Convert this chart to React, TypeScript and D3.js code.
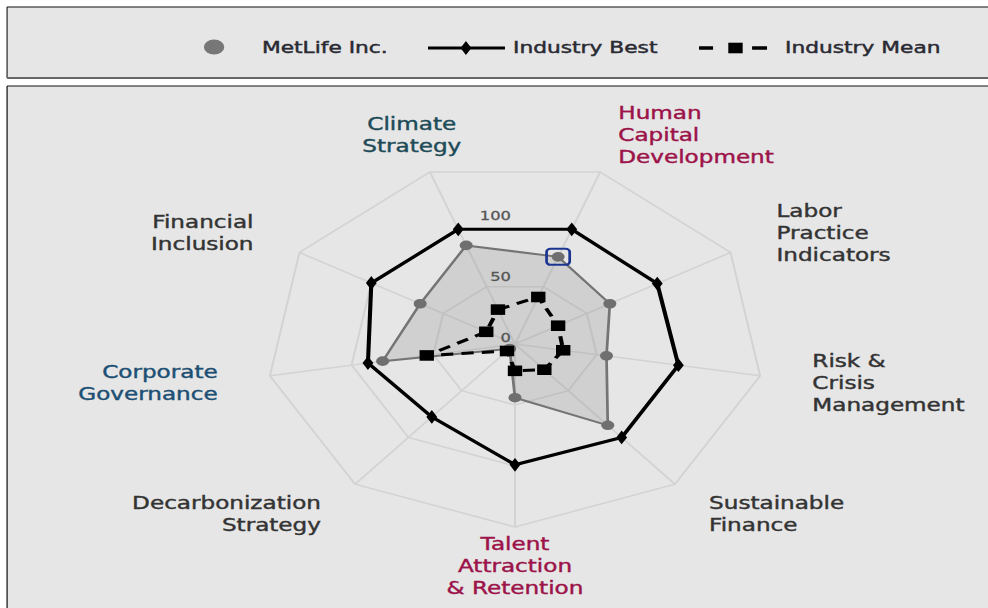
import React from "react";
import * as d3 from "d3";

const categories = [
  "Climate Strategy",
  "Human Capital Development",
  "Labor Practice Indicators",
  "Risk & Crisis Management",
  "Sustainable Finance",
  "Talent Attraction & Retention",
  "Decarbonization Strategy",
  "Corporate Governance",
  "Financial Inclusion",
];
const categoryLines = [
  ["Climate", "Strategy"],
  ["Human", "Capital", "Development"],
  ["Labor", "Practice", "Indicators"],
  ["Risk &", "Crisis", "Management"],
  ["Sustainable", "Finance"],
  ["Talent", "Attraction", "& Retention"],
  ["Decarbonization", "Strategy"],
  ["Corporate", "Governance"],
  ["Financial", "Inclusion"],
];
const metlife = [86, 76, 66, 56, 87, 44, 5, 81, 66];
const industryBest = [100, 100, 99, 100, 100, 99, 78, 90, 100];
const industryMean = [30, 41, 30, 29.5, 27.5, 22, 7.5, 54, 20];
const radialTickLabels = [0, 50, 100];
const gridLevels = [50, 100, 150];
const legendLabels = ["MetLife Inc.", "Industry Best", "Industry Mean"];
const highlightedIndex = 1;

const categoryColor: Record<string, string> = {
  "Climate Strategy": "#1d4b57",
  "Human Capital Development": "#9c1249",
  "Talent Attraction & Retention": "#9c1249",
  "Corporate Governance": "#1c4f73",
};

const W = 988;
const H = 608;
const KX = 1.36;
const VW = W / KX;
const FONT = "'DejaVu Sans', Verdana, sans-serif";

export default function App() {
  const n = categories.length;
  const cx = 515 / KX;
  const cy = 344;
  const angle = d3
    .scaleLinear()
    .domain([0, n])
    .range([-Math.PI / 9, 2 * Math.PI - Math.PI / 9]);
  const r = d3.scaleLinear().domain([0, 150]).range([0, 183]);

  const radial = d3
    .lineRadial<number>()
    .angle((_, i) => angle(i))
    .radius((d) => r(d))
    .curve(d3.curveLinearClosed);

  const pt = (v: number, i: number) => {
    const a = angle(i);
    return [r(v) * Math.sin(a), -r(v) * Math.cos(a)];
  };

  const diamond = d3.symbol().type(d3.symbolDiamond).size(55)() as string;
  const square = d3.symbol().type(d3.symbolSquare).size(112)() as string;

  const labelR = 222;
  const lineH = 22;

  const anchorFor = (i: number) => {
    let deg = (angle(i) * 180) / Math.PI;
    deg = ((deg % 360) + 360) % 360;
    if (deg > 19 && deg < 161) return "start";
    if (deg > 199 && deg < 339) return "end";
    return "middle";
  };

  return (
    <svg
      width={W}
      height={H}
      viewBox={`0 0 ${VW} ${H}`}
      preserveAspectRatio="none"
      style={{ position: "absolute", left: 0, top: 0, display: "block" }}
    >
      <rect x={0} y={0} width={VW} height={H} fill="#ffffff" />
      {/* legend frame */}
      <rect x={5.2} y={7} width={VW + 20} height={71} fill="#e6e6e6" />
      <line x1={5.2} y1={7} x2={VW} y2={7} stroke="#111" strokeWidth={1} />
      <line x1={5.2} y1={7} x2={5.2} y2={78} stroke="#111" strokeWidth={0.8} />
      <line x1={5.2} y1={78} x2={VW} y2={78} stroke="#666" strokeWidth={2} />
      {/* chart frame */}
      <rect x={5.2} y={86} width={VW + 20} height={H} fill="#e6e6e6" />
      <line x1={5.2} y1={86} x2={VW} y2={86} stroke="#111" strokeWidth={1.2} />
      <line x1={5.2} y1={86} x2={5.2} y2={H} stroke="#111" strokeWidth={0.9} />

      {/* legend */}
      <g fontFamily={FONT} fontSize={16} fill="#2a2a33" stroke="#2a2a33" strokeWidth={0.45}>
        <ellipse cx={157.4} cy={47} rx={7.5} ry={7.5} fill="#777" stroke="none" />
        <text x={192.6} y={53}>{legendLabels[0]}</text>
        <line x1={314.7} y1={48} x2={371.3} y2={48} stroke="#000" strokeWidth={3} />
        <path d={diamond} transform={`translate(342.6,48)`} fill="#000" stroke="none" />
        <text x={377.2} y={53}>{legendLabels[1]}</text>
        <line x1={514} y1={48} x2={524.3} y2={48} stroke="#000" strokeWidth={3.5} />
        <path d={square} transform={`translate(540.8,48)`} fill="#000" stroke="none" />
        <line x1={553} y1={48} x2={564} y2={48} stroke="#000" strokeWidth={3.5} />
        <text x={577.2} y={53}>{legendLabels[2]}</text>
      </g>

      <g transform={`translate(${cx},${cy})`}>
        {/* grid */}
        {gridLevels.map((lv) => (
          <path
            key={lv}
            d={radial(categories.map(() => lv)) as string}
            fill="none"
            stroke="#d3d3d3"
            strokeWidth={1.5}
          />
        ))}
        {categories.map((c, i) => {
          const [x, y] = pt(150, i);
          return <line key={c} x1={0} y1={0} x2={x} y2={y} stroke="#d3d3d3" strokeWidth={1.5} />;
        })}

        {/* MetLife */}
        <path
          d={radial(metlife) as string}
          fill="rgba(110,110,110,0.18)"
          stroke="#747474"
          strokeWidth={2}
        />
        {/* Industry best */}
        <path d={radial(industryBest) as string} fill="none" stroke="#000" strokeWidth={3} />
        {/* Industry mean */}
        <path
          d={radial(industryMean) as string}
          fill="none"
          stroke="#000"
          strokeWidth={3}
          strokeDasharray="9,6"
        />

        {metlife.map((v, i) => {
          const [x, y] = pt(v, i);
          return <circle key={"m" + i} cx={x} cy={y} r={4.8} fill="#6f6f6f" />;
        })}
        {industryBest.map((v, i) => {
          const [x, y] = pt(v, i);
          return <path key={"b" + i} d={diamond} transform={`translate(${x},${y})`} fill="#000" />;
        })}
        {industryMean.map((v, i) => {
          const [x, y] = pt(v, i);
          return <path key={"a" + i} d={square} transform={`translate(${x},${y})`} fill="#000" />;
        })}

        {(() => {
          const [x, y] = pt(metlife[highlightedIndex], highlightedIndex);
          return (
            <rect
              x={x - 8.5}
              y={y - 8}
              width={17}
              height={16}
              rx={3}
              fill="none"
              stroke="#1c3591"
              strokeWidth={2}
            />
          );
        })()}

        {/* radial tick labels */}
        {radialTickLabels.map((t) => (
          <text
            key={t}
            x={-3}
            y={-r(t) - 2}
            textAnchor="end"
            fontFamily={FONT}
            fontSize={12}
            fill="#555"
            stroke="#555"
            strokeWidth={0.3}
          >
            {t}
          </text>
        ))}

        {/* category labels */}
        {categories.map((c, i) => {
          const a = angle(i);
          const px = labelR * Math.sin(a);
          const py = -labelR * Math.cos(a);
          const lines = categoryLines[i];
          const y0 = py - ((lines.length - 1) * lineH) / 2 + 6;
          const col = categoryColor[c] || "#333";
          return (
            <text
              key={c}
              x={px}
              y={y0}
              textAnchor={anchorFor(i)}
              fontFamily={FONT}
              fontSize={17}
              fill={col}
              stroke={col}
              strokeWidth={0.4}
            >
              {lines.map((ln, k) => (
                <tspan key={k} x={px} y={y0 + k * lineH}>
                  {ln}
                </tspan>
              ))}
            </text>
          );
        })}
      </g>
    </svg>
  );
}
